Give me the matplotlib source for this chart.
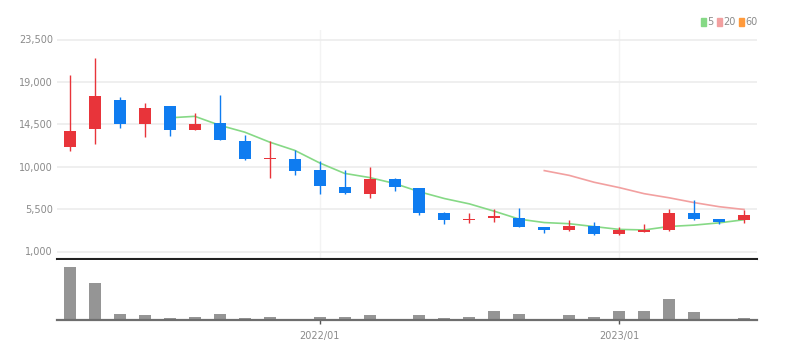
"""Monthly candlestick chart with 5/20 moving averages and volume panel."""

import matplotlib.pyplot as plt
import numpy as np
import pandas as pd
from matplotlib.patches import Patch

FONT = ["Liberation Sans Narrow", "DejaVu Sans"]
plt.rcParams["font.family"] = FONT

# Monthly bars, 2021/03 .. 2023/06
months = [p.strftime("%Y/%m") for p in pd.period_range("2021-03", periods=28, freq="M")]

opens = [12100, 14000, 17100, 14500, 16400, 13850, 14650, 12750, 10850, 10850,
         9650, 7850, 7050, 8650, 7700, 5100, 4350, 4530, 4600, 3600,
         3250, 3700, 2900, 3100, 3250, 5100, 4450, 4300]
closes = [13800, 17550, 14500, 16250, 13850, 14580, 12800, 10850, 10950, 9500,
          7900, 7250, 8650, 7800, 5100, 4300, 4420, 4740, 3600, 3300,
          3680, 2900, 3250, 3320, 5130, 4400, 4100, 4900]
highs = [19700, 21550, 17400, 16800, 16450, 15750, 17650, 13350, 12700, 11800,
         10600, 9600, 10000, 8750, 7750, 5200, 5100, 5500, 5600, 3650,
         4300, 4150, 3600, 3950, 5550, 6450, 4500, 5450]
lows = [11700, 12450, 14150, 13100, 13300, 13850, 12800, 10700, 8850, 9100,
        7150, 7150, 6700, 7450, 4900, 3900, 4050, 4150, 3550, 2950,
        3200, 2800, 2800, 3100, 3180, 4300, 3900, 4050]
volumes = [53000, 37000, 6000, 4700, 2300, 2700, 6300, 2300, 3000, 1000,
           2700, 3000, 4700, 1000, 4700, 2300, 2700, 9000, 6300, 1000,
           4700, 3000, 9000, 9000, 20700, 8000, 1300, 2300]

price_ticks = [1000, 5500, 10000, 14500, 19000, 23500]
date_ticks = ["2022/01", "2023/01"]

UP = "#e8343a"
DOWN = "#0f7cf0"
MA_COLORS = {5: "#86d986", 20: "#f2a0a0", 60: "#ff9a3c"}
LABEL_GRAY = "#8a8a8a"

df = pd.DataFrame({"open": opens, "close": closes, "high": highs, "low": lows,
                   "volume": volumes}, index=months)
x = np.arange(len(df))

W, H = 793, 359
fig = plt.figure(figsize=(W / 100, H / 100), dpi=100)
ax = fig.add_axes([57 / W, 1 - 259 / H, 700 / W, 229 / H])
axv = fig.add_axes([57 / W, 1 - 320 / H, 700 / W, 60 / H], sharex=ax)

# candles
colors = [UP if c >= o else DOWN for o, c in zip(df["open"], df["close"])]
body = (df["close"] - df["open"]).abs().clip(lower=60)
bottom = df[["open", "close"]].min(axis=1)
ax.vlines(x, df["low"], df["high"], colors=colors, lw=1, zorder=3)
ax.bar(x, body, bottom=bottom, width=0.48, color=colors, zorder=4)

# moving averages
for n in (5, 20):
    ma = df["close"].rolling(n).mean()
    ax.plot(x, ma.values, color=MA_COLORS[n], lw=1.2, zorder=2)

px_per_val = 212 / 22500
ax.set_ylim(1000 - 7.5 / px_per_val, 23500 + 9.5 / px_per_val)
ax.set_xlim(-0.52, len(df) - 0.48)
ax.set_yticks(price_ticks)
ax.set_yticklabels([f"{v:,}" for v in price_ticks], color=LABEL_GRAY, fontsize=7)
ax.tick_params(axis="y", length=0, pad=3)
ax.grid(axis="y", color="#ececec", lw=1.2)

date_pos = [months.index(d) for d in date_ticks]
ax.set_xticks(date_pos)
ax.grid(axis="x", color="#f3f3f3", lw=1)
ax.tick_params(axis="x", length=0, labelbottom=False)
ax.set_axisbelow(True)
for s in ("top", "right", "left"):
    ax.spines[s].set_visible(False)
ax.spines["bottom"].set_color("#222222")
ax.spines["bottom"].set_linewidth(1.5)

# volume
axv.bar(x, df["volume"], width=0.48, color="#959595", zorder=3)
axv.set_ylim(0, 60000)
axv.set_yticks([])
axv.set_xticks(date_pos)
axv.set_xticklabels(date_ticks, color=LABEL_GRAY, fontsize=7)
axv.tick_params(axis="x", length=3, width=1, color="#555555", pad=5)
for s in ("top", "right", "left"):
    axv.spines[s].set_visible(False)
axv.spines["bottom"].set_color("#6e6e6e")
axv.spines["bottom"].set_linewidth(1.6)
axv.spines["bottom"].set_zorder(5)

handles = [Patch(color=MA_COLORS[n], label=str(n)) for n in (5, 20, 60)]
leg = fig.legend(handles=handles, loc="upper right", bbox_to_anchor=(758 / W, 1 - 17 / H),
                 ncol=3, frameon=False, fontsize=7, handlelength=0.45, handleheight=0.9,
                 handletextpad=0.2, columnspacing=0.35, borderpad=0, borderaxespad=0)
for t in leg.get_texts():
    t.set_color(LABEL_GRAY)

fig.savefig("out.png", dpi=100)
